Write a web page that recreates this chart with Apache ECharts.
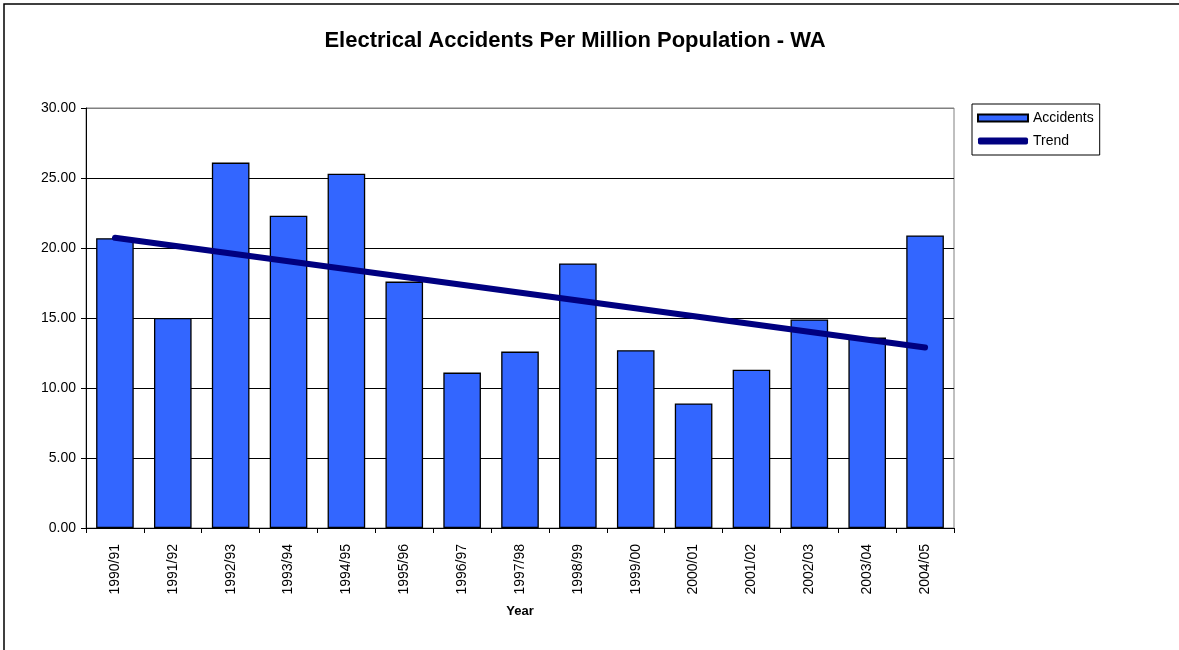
<!DOCTYPE html>
<html>
<head>
<meta charset="utf-8">
<script src="https://cdn.jsdelivr.net/npm/echarts@6/dist/echarts.min.js"></script>
<style>
  html, body { margin: 0; padding: 0; background: #fff; }
  #chart { width: 1179px; height: 650px; }
</style>
</head>
<body>
<div id="chart"></div>
<script>
// Financial years
const years = ['1990/91', '1991/92', '1992/93', '1993/94', '1994/95', '1995/96', '1996/97',
  '1997/98', '1998/99', '1999/00', '2000/01', '2001/02', '2002/03', '2003/04', '2004/05'];

// Electrical accidents per million population
const accidents = [20.7, 15.0, 26.1, 22.3, 25.3, 17.6, 11.1, 12.6, 18.9, 12.7, 8.9, 11.3, 14.9, 13.6, 20.9];

// Linear trend: value at the first and last year
const trendYears = ['1990/91', '2004/05'];
const trendValues = [20.73, 12.89];

const yTicks = { min: 0, max: 30, interval: 5 };

const font = 'Liberation Sans, Arial, sans-serif';

const chart = echarts.init(document.getElementById('chart'), null, { renderer: 'canvas' });

chart.setOption({
  backgroundColor: '#ffffff',
  animation: false,
  title: {
    text: 'Electrical Accidents Per Million Population - WA',
    left: 570,
    textAlign: 'center',
    top: 25,
    textStyle: { fontFamily: font, fontSize: 22, fontWeight: 'bold', color: '#000' }
  },
  legend: {
    orient: 'vertical',
    left: 972,
    top: 104,
    padding: [7, 6, 7, 5],
    itemGap: 9,
    itemWidth: 50,
    itemHeight: 7,
    borderColor: '#000',
    borderWidth: 1,
    textStyle: { fontFamily: font, fontSize: 14, color: '#000' },
    data: [
      { name: 'Accidents', icon: 'rect' },
      { name: 'Trend', icon: 'roundRect' }
    ]
  },
  grid: {
    left: 86, top: 108, right: 225, bottom: 122,
    show: true, borderColor: '#808080', borderWidth: 1
  },
  xAxis: {
    type: 'category',
    data: years,
    name: 'Year',
    nameLocation: 'middle',
    nameGap: 77,
    nameTextStyle: { fontFamily: font, fontSize: 13, fontWeight: 'bold', color: '#000' },
    axisLine: { lineStyle: { color: '#000', width: 1 } },
    axisTick: { show: true, alignWithLabel: false, length: 5, lineStyle: { color: '#000' } },
    axisLabel: { rotate: 90, interval: 0, margin: 16, fontFamily: font, fontSize: 14, color: '#000' }
  },
  yAxis: {
    type: 'value',
    min: yTicks.min, max: yTicks.max, interval: yTicks.interval,
    axisLine: { show: true, lineStyle: { color: '#000', width: 1 } },
    axisTick: { show: true, length: 5, lineStyle: { color: '#000' } },
    axisLabel: {
      margin: 10, fontFamily: font, fontSize: 14, color: '#000',
      formatter: v => v.toFixed(2)
    },
    splitLine: {
      show: true,
      lineStyle: { color: ['#000', '#000', '#000', '#000', '#000', '#000', '#808080'], width: 1 }
    }
  },
  series: [
    {
      name: 'Accidents',
      type: 'bar',
      data: accidents,
      barWidth: '65%',
      itemStyle: { color: '#3366FF', borderColor: '#000', borderWidth: 1.3 }
    },
    {
      name: 'Trend',
      type: 'line',
      data: trendYears.map((y, i) => [y, trendValues[i]]),
      showSymbol: false,
      symbol: 'none',
      lineStyle: { color: '#000080', width: 6, cap: 'round' },
      itemStyle: { color: '#000080' }
    }
  ],
  graphic: [
    {
      type: 'rect',
      shape: { x: 4, y: 4, width: 1200, height: 700 },
      style: { fill: null, stroke: '#000', lineWidth: 1.5 },
      silent: true
    }
  ]
});
</script>
</body>
</html>
